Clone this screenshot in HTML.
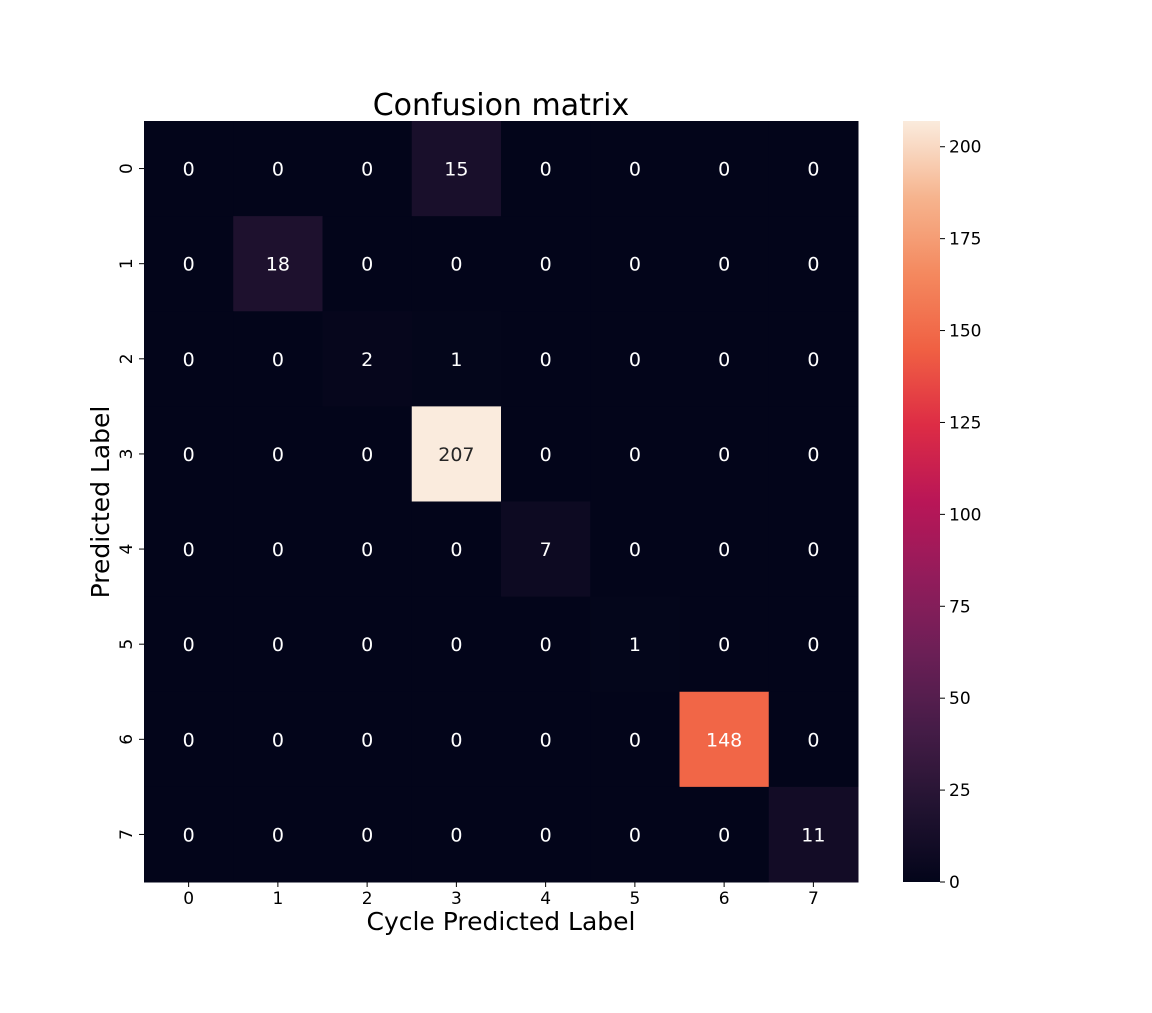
<!DOCTYPE html>
<html><head><meta charset="utf-8"><style>
body{margin:0;background:#fff;}
svg text{font-family:"DejaVu Sans","Liberation Sans",sans-serif;}
</style></head><body>
<svg id="chart" width="1152" height="1008" xmlns="http://www.w3.org/2000/svg">
<defs><linearGradient id="cbg" x1="0" y1="1" x2="0" y2="0"></linearGradient></defs>
<text x="501" y="115" font-size="30" text-anchor="middle" fill="#000">Confusion matrix</text>
<text x="501" y="930" font-size="25" text-anchor="middle" fill="#000">Cycle Predicted Label</text>
<text transform="translate(109,502) rotate(-90)" font-size="25" text-anchor="middle" fill="#000">Predicted Label</text>
<g id="cells"></g><g id="cb"></g>
</svg>
<script>
const xLabels=["0","1","2","3","4","5","6","7"];
const yLabels=["0","1","2","3","4","5","6","7"];
const row0=[0,0,0,15,0,0,0,0];
const row1=[0,18,0,0,0,0,0,0];
const row2=[0,0,2,1,0,0,0,0];
const row3=[0,0,0,207,0,0,0,0];
const row4=[0,0,0,0,7,0,0,0];
const row5=[0,0,0,0,0,1,0,0];
const row6=[0,0,0,0,0,0,148,0];
const row7=[0,0,0,0,0,0,0,11];
const matrix=[row0,row1,row2,row3,row4,row5,row6,row7];
const cbTicks=[0,25,50,75,100,125,150,175,200];
const NS="http://www.w3.org/2000/svg";
const L=144,R=858,T=121,B=882;
const vmax=Math.max(...matrix.flat());
const cw=(R-L)/xLabels.length, ch=(B-T)/yLabels.length;
const stops=["#03051a","#221331","#451c47","#6b1f56","#921c5b","#b91657","#dd2c45","#f06043","#f4895f","#f6b48e","#faebdd"];
function hex(h){return [1,3,5].map(i=>parseInt(h.substr(i,2),16));}
function cmap(t){t=Math.max(0,Math.min(1,t));const p=t*10,i=Math.min(9,Math.floor(p)),f=p-i;const a=hex(stops[i]),b=hex(stops[i+1]);return "rgb("+a.map((v,k)=>Math.round(v+(b[k]-v)*f)).join(",")+")";}
function mk(tag,attrs,parent){const e=document.createElementNS(NS,tag);for(const k in attrs)e.setAttribute(k,attrs[k]);parent.appendChild(e);return e;}
const g=document.getElementById('cells');
const svg=document.getElementById('chart');
matrix.forEach((row,r)=>row.forEach((v,c)=>{
 const rect=mk('rect',{x:L+c*cw,y:T+r*ch,width:cw+0.5,height:ch+0.5,fill:cmap(v/vmax)},g);
 
 
 const t=mk('text',{x:L+(c+0.5)*cw,y:T+(r+0.5)*ch+7,'font-size':19,'text-anchor':'middle',fill:(v/vmax>0.8?'#262626':'#fff')},g);
 t.textContent=v;
 
 
}));
xLabels.forEach((l,i)=>{
 const x=L+(i+0.5)*cw;
 const tk=mk('line',{x1:x,x2:x,y1:B,y2:B+5,stroke:'#000','stroke-width':1},svg);
 
 
 const t=mk('text',{x:x,y:B+22,'font-size':17,'text-anchor':'middle'},svg);
 t.textContent=l;
 
 
});
yLabels.forEach((l,i)=>{
 const y=T+(i+0.5)*ch;
 const tk=mk('line',{x1:L-5,x2:L,y1:y,y2:y,stroke:'#000','stroke-width':1},svg);
 
 
 const t=mk('text',{transform:'translate('+(L-12)+','+y+') rotate(-90)','font-size':17,'text-anchor':'middle'},svg);
 t.textContent=l;
 
 
});
const grad=document.getElementById('cbg');
for(let i=0;i<=20;i++){mk('stop',{offset:(i/20),'stop-color':cmap(i/20)},grad);}
const cb=document.getElementById('cb');
const CX=903,CW=37;
const bar=mk('rect',{x:CX,y:T,width:CW,height:B-T,fill:'url(#cbg)'},cb);


cbTicks.forEach(v=>{
 const y=B-(v/vmax)*(B-T);
 const tk=mk('line',{x1:CX+CW,x2:CX+CW+5,y1:y,y2:y,stroke:'#000','stroke-width':1},cb);
 
 
 const t=mk('text',{x:CX+CW+9,y:y+6,'font-size':17},cb);
 t.textContent=v;
 
 
});
</script>
</body></html>
